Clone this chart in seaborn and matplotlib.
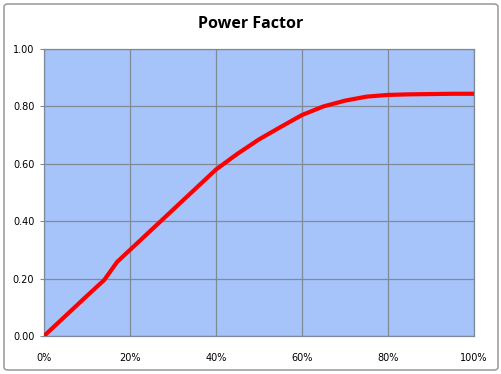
import numpy as np
import pandas as pd
import matplotlib
matplotlib.use("Agg")
import matplotlib.pyplot as plt
import seaborn as sns
from matplotlib.patches import FancyBboxPatch

# load fraction vs power factor
load = [0.00, 0.05, 0.10, 0.14, 0.17, 0.20, 0.25, 0.30, 0.35, 0.40, 0.45, 0.50,
        0.55, 0.60, 0.65, 0.70, 0.75, 0.80, 0.85, 0.90, 0.95, 1.00]
power_factor = [0.000, 0.070, 0.140, 0.195, 0.258, 0.300, 0.370, 0.440, 0.510, 0.580, 0.635, 0.685,
                0.728, 0.770, 0.800, 0.820, 0.834, 0.840, 0.842, 0.843, 0.844, 0.844]
x_ticks = [0.0, 0.2, 0.4, 0.6, 0.8, 1.0]
x_labels = ["0%", "20%", "40%", "60%", "80%", "100%"]
y_ticks = [0.0, 0.2, 0.4, 0.6, 0.8, 1.0]

df = pd.DataFrame({"load": load, "pf": power_factor})

sns.set_style("white")
fig = plt.figure(figsize=(5.02, 3.74), dpi=100)
ax = fig.add_axes([44 / 502, 1 - 336 / 374, 430 / 502, 287 / 374])
ax.set_facecolor("#a6c4fa")

sns.lineplot(data=df, x="load", y="pf", ax=ax, color="#ff0000", linewidth=3,
             solid_capstyle="butt", zorder=3)

ax.set_xlim(0, 1)
ax.set_ylim(0, 1)
ax.set_xticks(x_ticks)
ax.set_xticklabels(x_labels)
ax.set_yticks(y_ticks)
ax.set_yticklabels([f"{v:.2f}" for v in y_ticks])
ax.grid(True, color="#7f8a99", linewidth=0.9)
ax.set_axisbelow(True)
ax.tick_params(axis="both", labelsize=7, colors="#000000", length=3, width=0.8,
               color="#7f8a99")
ax.tick_params(axis="x", pad=12, length=0)
ax.tick_params(axis="y", pad=4, direction="out", left=True)
for sp in ax.spines.values():
    sp.set_color("#7f8a99")
    sp.set_linewidth(0.9)
ax.set_xlabel("")
ax.set_ylabel("")

fig.text(0.5, 1 - 24 / 374, "Power Factor", ha="center", va="center", color="black",
         fontsize=11.5, fontweight="bold", family=["Open Sans", "DejaVu Sans"])

# outer chart border
border = FancyBboxPatch((4 / 502, 4 / 374), 494 / 502, 366 / 374,
                        boxstyle="round,pad=0,rounding_size=0.008",
                        transform=fig.transFigure, fill=False,
                        edgecolor="#a0a0a0", linewidth=1.2)
fig.patches.append(border)

fig.savefig("out.png", dpi=100)
